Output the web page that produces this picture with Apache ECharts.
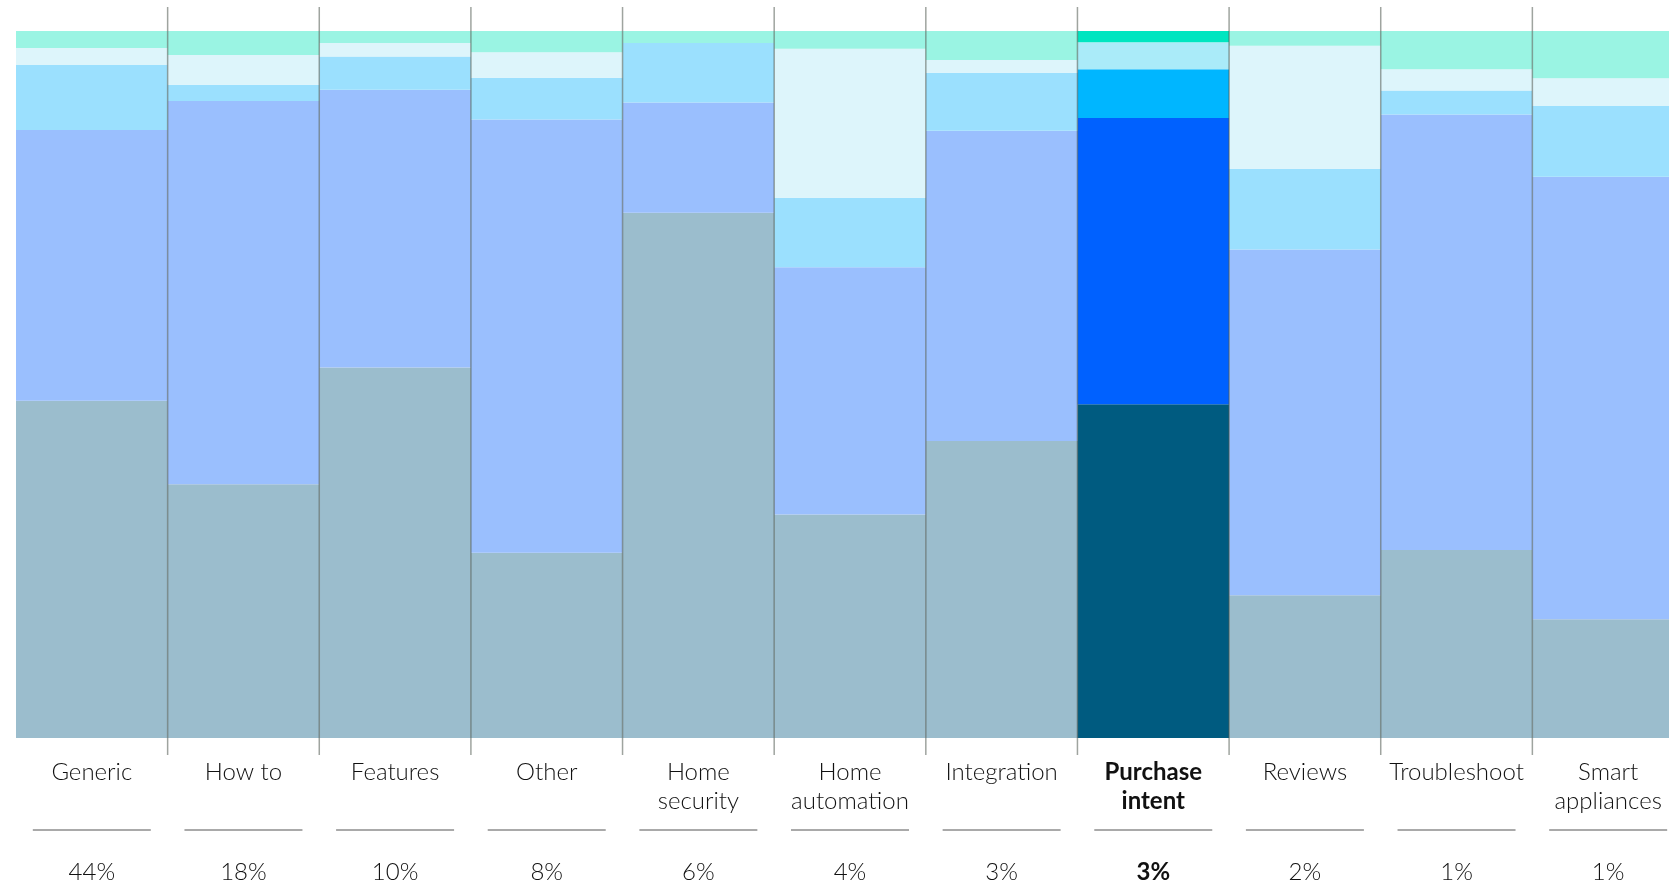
<!DOCTYPE html>
<html>
<head>
<meta charset="utf-8">
<script src="https://cdn.jsdelivr.net/npm/echarts@6/dist/echarts.min.js"></script>
<style>
html,body{margin:0;padding:0;background:#fff;}
#chart{width:1669px;height:883px;}
</style>
</head>
<body>
<div id="chart"></div>
<script>
// ---- data ----
const categories = ['Generic','How to','Features','Other','Home\nsecurity','Home\nautomation','Integration','Purchase\nintent','Reviews','Troubleshoot','Smart\nappliances'];
const shares = ['44%','18%','10%','8%','6%','4%','3%','3%','2%','1%','1%'];
const highlightIndex = 7;
// stacked segments, bottom to top (percent of each column)
const seg1 = [47.7, 35.9, 52.4, 26.2, 74.3, 31.6, 42.0, 47.2, 20.2, 26.6, 16.8];
const seg2 = [38.3, 54.2, 39.3, 61.3, 15.6, 35.0, 43.9, 40.5, 48.9, 61.6, 62.6];
const seg3 = [9.2, 2.3, 4.7, 5.9, 8.4, 9.8, 8.2, 6.9, 11.4, 3.4, 10.0];
const seg4 = [2.4, 4.2, 1.9, 3.6, 0, 21.1, 1.8, 3.8, 17.4, 3.0, 3.9];
const seg5 = [2.4, 3.4, 1.7, 3.0, 1.7, 2.5, 4.1, 1.6, 2.1, 5.4, 6.7];

const segments = [seg1, seg2, seg3, seg4, seg5];
const baseColors = ['#9BBDCD', '#9ABFFE', '#9BE0FE', '#DDF5FB', '#9AF4E3'];
const hiColors   = ['#005B80', '#0061FF', '#00B6FF', '#AAEBF9', '#00E5C0'];

const FONT = 'Lato, "Noto Sans", sans-serif';
const FS = 24;

const chart = echarts.init(document.getElementById('chart'), null, {renderer: 'canvas'});

const barSeries = segments.map((vals, s) => ({
  type: 'bar',
  stack: 'total',
  barWidth: '100%',
  silent: true,
  itemStyle: {color: baseColors[s]},
  data: vals.map((v, i) => i === highlightIndex ? {value: v, itemStyle: {color: hiColors[s]}} : v)
}));

const overlaySeries = {
  type: 'custom',
  silent: true,
  clip: false,
  z: 10,
  data: shares.map((s, i) => [i, 0]),
  renderItem: function (params, api) {
    const i = params.dataIndex;
    const base = api.coord([i, 0]);
    const top = api.coord([i, 100]);
    const band = api.size([1, 0])[0];
    const children = [];
    if (i > 0) {
      const x = base[0] - band / 2;
      children.push({
        type: 'line',
        shape: {x1: x, y1: top[1] - 24, x2: x, y2: base[1] + 17},
        style: {stroke: 'rgba(80,90,80,0.55)', lineWidth: 1.5}
      });
    }
    children.push({
      type: 'line',
      shape: {x1: base[0] - 59, y1: base[1] + 92, x2: base[0] + 59, y2: base[1] + 92},
      style: {stroke: '#555', lineWidth: 1}
    });
    children.push({
      type: 'text',
      style: {
        x: base[0], y: base[1] + 134,
        text: shares[i],
        align: 'center', verticalAlign: 'middle',
        fontSize: FS, fontFamily: FONT,
        fontWeight: i === highlightIndex ? 'bold' : 300,
        fill: '#111'
      }
    });
    return {type: 'group', children: children};
  }
};

chart.setOption({
  animation: false,
  grid: {left: 16, top: 31, width: 1668, bottom: 145, containLabel: false, outerBoundsMode: 'none'},
  xAxis: {
    type: 'category',
    data: categories,
    axisLine: {show: false},
    axisTick: {show: false},
    splitLine: {show: false},
    axisLabel: {
      interval: 0,
      margin: 20,
      verticalAlign: 'top',
      fontSize: FS,
      lineHeight: 29,
      fontFamily: FONT,
      fontWeight: 300,
      color: '#111',
      formatter: function (v, i) {
        if (i === highlightIndex) return v.split('\n').map(s => '{b|' + s + '}').join('\n');
        return v;
      },
      rich: {
        b: {fontWeight: 'bold', fontSize: FS, lineHeight: 29, fontFamily: FONT, color: '#111'}
      }
    }
  },
  yAxis: {type: 'value', min: 0, max: 100, show: false},
  series: barSeries.concat([overlaySeries])
});
</script>
</body>
</html>
